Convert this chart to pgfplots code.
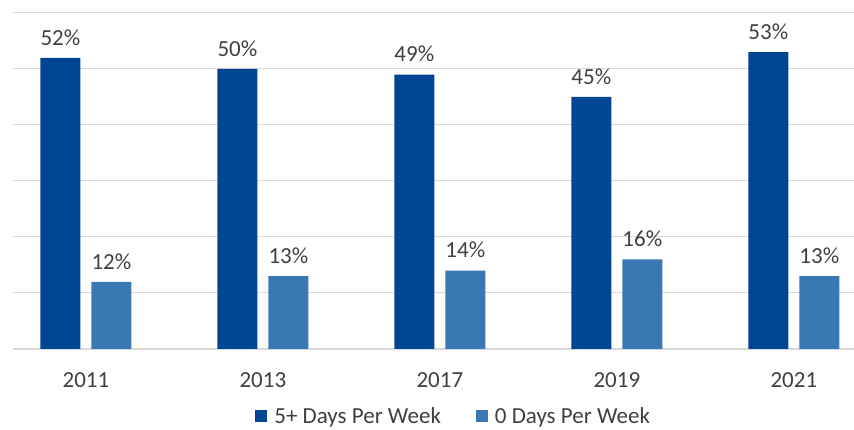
\documentclass[border=0pt]{standalone}
\usepackage{pgfplots}
\pgfplotsset{compat=1.18}
\usepackage{fontspec}
\setmainfont{Carlito}
\definecolor{darkb}{RGB}{0,70,147}
\definecolor{lightb}{RGB}{58,120,180}
\definecolor{txt}{RGB}{64,64,64}
\definecolor{grd}{RGB}{217,217,217}
\begin{document}
\begin{tikzpicture}
\useasboundingbox (0,0) rectangle (854pt,430pt);
\begin{axis}[
  at={(13pt,81pt)}, anchor=south west,
  scale only axis, width=841pt, height=336pt,
  ymin=0, ymax=60, xmin=-0.412, xmax=4.34,
  ybar=11pt, bar width=40pt,
  /pgf/number format/assume math mode=true,
  axis line style={draw=none},
  ytick={10,20,30,40,50,60}, yticklabels={},
  extra y ticks={0}, extra y tick labels={},
  extra y tick style={grid style={grd, line width=1.3pt}},
  major tick length=0pt,
  ymajorgrids, grid style={grd, line width=1pt},
  xtick={0,1,2,3,4},
  xticklabels={2011,2013,2017,2019,2021},
  xticklabel style={font=\fontsize{23}{27}\selectfont, color=txt, anchor=center, yshift=-31pt},
  nodes near coords={\pgfmathprintnumber{\pgfplotspointmeta}\%},
  nodes near coords style={font=\fontsize{23}{27}\selectfont, color=txt, yshift=9pt},
  legend style={at={(0.524,-0.2)}, anchor=center, legend columns=2, draw=none,
    font=\fontsize{23}{27}\selectfont, text=txt, inner sep=0pt,
    /tikz/every odd column/.append style={column sep=5pt},
    /tikz/every even column/.append style={column sep=33pt}},
  legend image code/.code={\fill[#1] (0pt,-6pt) rectangle (12pt,6pt);},
]
\addplot[fill=darkb, draw=none] coordinates {(0,52) (1,50) (2,49) (3,45) (4,53)};
\addplot[fill=lightb, draw=none] coordinates {(0,12) (1,13) (2,14) (3,16) (4,13)};
\legend{5+ Days Per Week, 0 Days Per Week}
\end{axis}
\end{tikzpicture}
\end{document}
